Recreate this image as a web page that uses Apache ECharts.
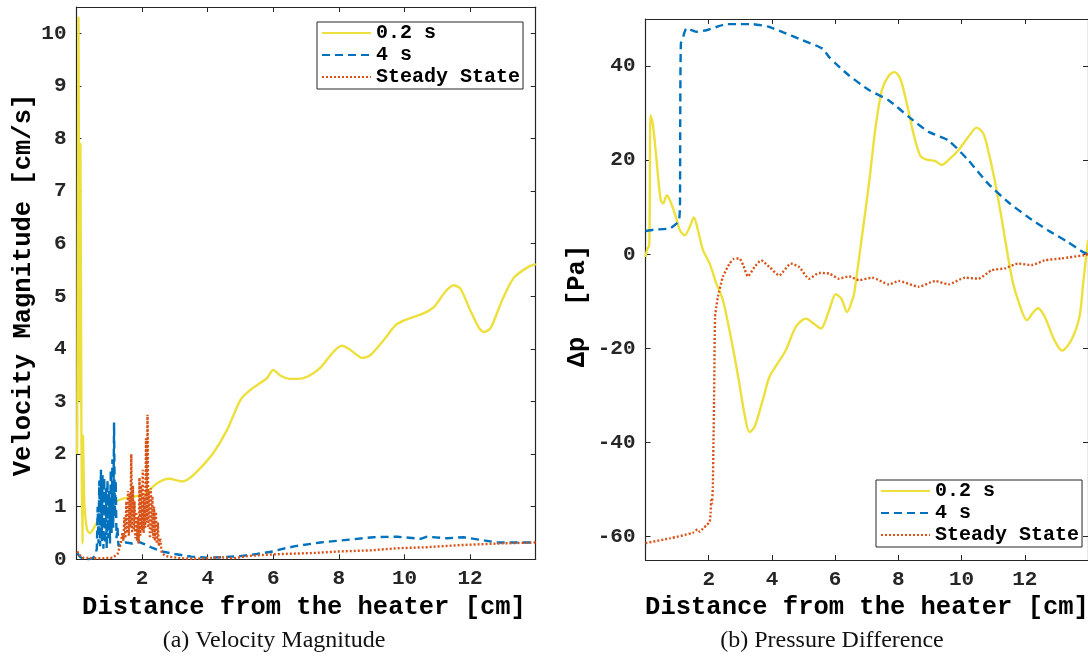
<!DOCTYPE html>
<html>
<head>
<meta charset="utf-8">
<script src="https://cdn.jsdelivr.net/npm/echarts@6/dist/echarts.min.js"></script>
<style>
html,body{margin:0;padding:0;background:#fff;}
#c{width:1088px;height:659px;}
</style>
</head>
<body>
<div id="c"></div>
<script>
// ---------- data ----------
var seriesNames = ['0.2 s', '4 s', 'Steady State'];
var xTicks = [2, 4, 6, 8, 10, 12];
var velTicks = [0, 1, 2, 3, 4, 5, 6, 7, 8, 9, 10];
var presTicks = [-60, -40, -20, 0, 20, 40];

// (a) Velocity magnitude [cm/s]
var velA = [[0.02,2.0],[0.04,6],[0.06,10.3],[0.08,6],[0.1,3],[0.12,7.9],[0.15,2.5],[0.18,0.3],[0.2,2.35],[0.23,1.2],[0.27,0.8],[0.33,0.55],[0.41,0.5],[0.55,0.62],[0.72,0.81],[0.9,0.95],[1.02,1.03],[1.2,1.1],[1.4,1.15],[1.73,1.19],[2.0,1.22],[2.2,1.3],[2.4,1.42],[2.65,1.51],[2.85,1.53],[3.05,1.5],[3.2,1.48],[3.4,1.52],[3.77,1.73],[4.17,2.02],[4.59,2.46],[5.0,3.03],[5.3,3.22],[5.6,3.35],[5.8,3.44],[6.0,3.6],[6.2,3.5],[6.5,3.43],[6.75,3.43],[7.03,3.47],[7.43,3.64],[7.84,3.95],[8.1,4.06],[8.35,3.98],[8.71,3.83],[8.96,3.88],[9.37,4.17],[9.73,4.45],[10.03,4.55],[10.59,4.68],[10.9,4.8],[11.25,5.09],[11.5,5.21],[11.7,5.15],[12.0,4.74],[12.27,4.4],[12.42,4.32],[12.63,4.4],[12.98,4.93],[13.33,5.35],[13.75,5.55],[14.0,5.61]];
var velB = [[0.02,0.12],[0.1,0.05],[0.2,0.01],[0.35,0.0],[0.5,0.02],[0.58,0.1],[0.62,0.2],[0.645,1.0],[0.67,0.3],[0.695,1.5],[0.72,0.25],[0.745,1.7],[0.77,0.35],[0.795,1.6],[0.82,0.2],[0.845,1.55],[0.87,0.3],[0.895,1.35],[0.92,0.2],[0.945,1.5],[0.97,0.4],[0.995,1.3],[1.02,0.3],[1.045,1.7],[1.07,0.5],[1.095,1.9],[1.12,0.6],[1.145,2.6],[1.17,0.8],[1.195,1.5],[1.22,0.4],[1.25,0.6],[1.28,0.25],[1.35,0.3],[1.5,0.32],[1.7,0.3],[1.9,0.33],[2.1,0.28],[2.3,0.22],[2.6,0.15],[3.0,0.1],[3.5,0.05],[4.0,0.03],[4.5,0.04],[5.0,0.06],[5.5,0.1],[6.0,0.15],[6.22,0.19],[6.67,0.25],[7.43,0.32],[8.25,0.37],[9.06,0.42],[9.78,0.43],[10.49,0.39],[10.69,0.43],[11.3,0.40],[11.8,0.42],[12.32,0.37],[12.83,0.32],[13.33,0.32],[14.0,0.32]];
var velC = [[0.02,0.15],[0.1,0.08],[0.2,0.03],[0.5,0.02],[0.8,0.02],[1.1,0.03],[1.25,0.1],[1.35,0.3],[1.4,0.5],[1.43,0.35],[1.46,0.8],[1.49,0.4],[1.52,1.1],[1.545,0.5],[1.57,1.3],[1.595,0.45],[1.62,1.25],[1.645,0.6],[1.67,2.0],[1.695,0.5],[1.72,1.4],[1.745,0.55],[1.77,1.1],[1.795,0.4],[1.82,0.9],[1.845,0.35],[1.87,0.8],[1.895,0.3],[1.92,1.55],[1.945,0.45],[1.97,1.4],[1.995,0.55],[2.02,1.7],[2.045,0.5],[2.07,1.2],[2.095,0.6],[2.12,2.3],[2.145,0.7],[2.165,2.75],[2.19,0.6],[2.215,1.3],[2.24,0.4],[2.265,1.35],[2.29,0.5],[2.315,1.2],[2.34,0.4],[2.365,1.0],[2.39,0.35],[2.42,0.9],[2.45,0.3],[2.48,0.7],[2.51,0.25],[2.55,0.4],[2.6,0.12],[2.7,0.07],[2.8,0.05],[3.2,0.02],[3.6,0.01],[4.0,0.02],[4.4,0.04],[4.8,0.02],[5.2,0.06],[5.6,0.08],[6.22,0.1],[7.23,0.12],[8.04,0.15],[8.96,0.17],[9.78,0.21],[10.69,0.23],[11.7,0.27],[12.83,0.3],[14.0,0.32]];

// (b) Pressure difference [Pa]
var presA = [[0.0,-0.6],[0.06,1.2],[0.12,1.9],[0.16,29.5],[0.23,27.8],[0.35,20],[0.48,11.5],[0.56,10.8],[0.67,12.5],[0.77,11.5],[0.93,8.6],[1.09,5.1],[1.24,4.0],[1.4,5.8],[1.53,7.8],[1.66,5.1],[1.82,0.85],[2.03,-2.0],[2.24,-6.2],[2.45,-9.8],[2.76,-19.7],[2.97,-27.5],[3.13,-33.9],[3.29,-37.8],[3.45,-36.7],[3.71,-31],[3.92,-26.1],[4.18,-23.2],[4.44,-20.4],[4.76,-15.4],[5.07,-13.7],[5.39,-15.1],[5.55,-15.8],[5.81,-11.9],[6.02,-8.5],[6.2,-9.5],[6.38,-12.3],[6.54,-9.8],[6.6,-8.4],[6.86,4.4],[7.07,15],[7.28,27],[7.48,34.9],[7.7,38],[7.88,38.7],[8.06,37.3],[8.27,32],[8.48,25.6],[8.69,21],[8.9,20.1],[9.17,19.8],[9.37,19.0],[9.58,20],[9.9,22.1],[10.21,24.9],[10.48,26.9],[10.69,25.6],[10.84,22.1],[11.05,15.7],[11.26,7.9],[11.47,-0.6],[11.63,-6.2],[11.79,-9.8],[12.07,-14.0],[12.25,-12.5],[12.42,-11.5],[12.63,-13.3],[12.94,-18.3],[13.18,-20.5],[13.47,-18.3],[13.73,-13.3],[13.85,-6],[13.95,0],[14.0,3]];
var presB = [[0.0,4.9],[0.25,5.2],[0.77,5.5],[0.98,6.5],[1.06,7.2],[1.09,10],[1.1,30],[1.12,44.8],[1.19,46.2],[1.3,48.0],[1.61,47.3],[1.93,47.6],[2.24,48.3],[2.56,48.9],[2.87,48.9],[3.39,48.9],[3.92,48.3],[4.34,47.2],[4.97,45.5],[5.6,43.7],[5.81,41.9],[6.02,40.5],[6.44,38],[7.07,34.9],[7.7,32.7],[8.33,29.2],[8.96,26],[9.58,24.2],[10.21,20],[10.84,15],[11.47,11.1],[12.1,7.9],[12.73,5.1],[13.36,2.6],[13.83,0.5],[14.0,0]];
var presC = [[0.0,-61.4],[0.77,-60.4],[1.5,-59.2],[1.65,-58.5],[1.72,-59.0],[1.82,-58.3],[1.95,-57.5],[2.03,-56.9],[2.06,-55],[2.08,-52.3],[2.1,-53],[2.13,-49.5],[2.15,-40],[2.17,-31],[2.2,-13.3],[2.24,-11.2],[2.29,-9.1],[2.45,-4.8],[2.66,-2.0],[2.8,-1.0],[2.97,-0.9],[3.1,-2.5],[3.24,-4.7],[3.45,-2.7],[3.66,-1.3],[3.92,-2.7],[4.23,-4.5],[4.6,-2.0],[4.86,-2.7],[5.18,-5.2],[5.49,-4.0],[5.81,-4.1],[6.12,-5.2],[6.44,-4.7],[6.75,-5.5],[7.17,-5.0],[7.7,-6.4],[8.01,-5.7],[8.64,-6.9],[9.17,-5.7],[9.58,-6.4],[10.11,-5.0],[10.53,-5.2],[10.95,-3.4],[11.37,-3.0],[11.79,-2.0],[12.21,-2.3],[12.63,-1.3],[13.15,-0.9],[13.89,-0.2],[14.0,0]];

// ---------- styling ----------
var COL = ['#EDE03C', '#0072BD', '#D95319'];
var AX = '#262626';
var MONO = '"Liberation Mono", "DejaVu Sans Mono", monospace';
var SERIF = '"Liberation Serif", "DejaVu Serif", serif';

function xAx(grid, pos) {
  return {
    type: 'value', gridIndex: grid, position: pos, min: 0, max: 14,
    axisLine: {show: true, onZero: false, lineStyle: {color: AX, width: 1.2}},
    axisTick: {show: true, inside: true, length: 5, customValues: xTicks, lineStyle: {color: AX}},
    axisLabel: {show: pos === 'bottom', customValues: xTicks, margin: 9, color: AX,
      fontFamily: MONO, fontWeight: 'bold', fontSize: 21},
    splitLine: {show: false}
  };
}
function yAx(grid, pos, mn, mx, ticks) {
  return {
    type: 'value', gridIndex: grid, position: pos, min: mn, max: mx,
    axisLine: {show: true, onZero: false, lineStyle: {color: AX, width: 1.2}},
    axisTick: {show: true, inside: true, length: 5, customValues: ticks, lineStyle: {color: AX}},
    axisLabel: {show: pos === 'left', customValues: ticks, margin: 10, color: AX,
      fontFamily: MONO, fontWeight: 'bold', fontSize: 21},
    splitLine: {show: false}
  };
}
function ser(i, data, xi, yi, smooth) {
  var ls = {color: COL[i], width: 2.4};
  if (i === 1) ls.type = [8, 5];
  if (i === 2) ls.type = [2, 2];
  return {
    type: 'line', name: seriesNames[i], data: data, xAxisIndex: xi, yAxisIndex: yi,
    showSymbol: false, symbol: 'none', smooth: smooth, lineStyle: ls,
    itemStyle: {color: COL[i]}, z: 2 + i, animation: false
  };
}
function legend(left, top) {
  return {
    data: seriesNames, orient: 'vertical', left: left, top: top,
    itemWidth: 49, itemHeight: 14, itemGap: 2, padding: [1, 3, 2, 4],
    itemStyle: {opacity: 0},
    backgroundColor: '#fff', borderColor: AX, borderWidth: 1, borderRadius: 0,
    selectedMode: false,
    textStyle: {fontFamily: MONO, fontWeight: 'bold', fontSize: 20, color: '#000', lineHeight: 20}
  };
}
function label(text, x, y, rot, font, size, weight, color) {
  return {
    type: 'text', x: x, y: y, rotation: rot, silent: true,
    style: {text: text, fontFamily: font, fontSize: size, fontWeight: weight, fill: color,
      align: 'center', verticalAlign: 'middle'}
  };
}

var chart = echarts.init(document.getElementById('c'), null, {renderer: 'canvas'});
chart.setOption({
  animation: false,
  backgroundColor: '#fff',
  grid: [
    {left: 76.5, top: 7, width: 459.2, height: 552.3},
    {left: 645.5, top: 19, width: 444.8, height: 541}
  ],
  xAxis: [xAx(0, 'bottom'), xAx(0, 'top'), xAx(1, 'bottom'), xAx(1, 'top')],
  yAxis: [yAx(0, 'left', 0, 10.5, velTicks), yAx(0, 'right', 0, 10.5, velTicks),
          yAx(1, 'left', -65, 50, presTicks), yAx(1, 'right', -65, 50, presTicks)],
  legend: [legend(317, 22), legend(876, 480)],
  series: [
    ser(0, velA, 0, 0, 0.25), ser(1, velB, 0, 0, false), ser(2, velC, 0, 0, false),
    ser(0, presA, 2, 2, 0.3), ser(1, presB, 2, 2, 0.2), ser(2, presC, 2, 2, 0.2)
  ],
  graphic: [
    label('Distance from the heater [cm]', 304, 608, 0, MONO, 25.5, 'bold', '#000'),
    label('Distance from the heater [cm]', 867, 608, 0, MONO, 25.5, 'bold', '#000'),
    label('Velocity Magnitude [cm/s]', 24, 285, Math.PI / 2, MONO, 25.5, 'bold', '#000'),
    label('\u0394p  [Pa]', 578, 306, Math.PI / 2, MONO, 25.5, 'bold', '#000'),
    label('(a) Velocity Magnitude', 274, 641, 0, SERIF, 24, 'normal', '#111'),
    label('(b) Pressure Difference', 832, 641, 0, SERIF, 24, 'normal', '#111')
  ]
});
</script>
</body>
</html>
